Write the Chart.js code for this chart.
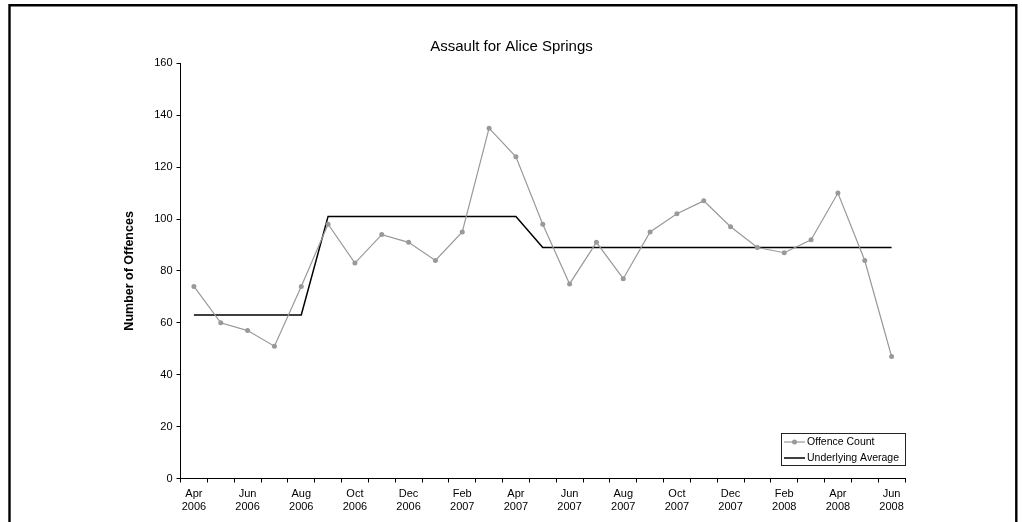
<!DOCTYPE html>
<html>
<head>
<meta charset="utf-8">
<script src="https://cdn.jsdelivr.net/npm/chart.js@4.4.1/dist/chart.umd.min.js"></script>
<style>
html,body{margin:0;padding:0;background:#fff;overflow:hidden;}
#wrap{position:relative;width:1022px;height:522px;}
</style>
</head>
<body>
<div id="wrap"><canvas id="c" width="1022" height="522"></canvas></div>
<script>
// ---- data ----
const monthLabels = ['Apr','May','Jun','Jul','Aug','Sep','Oct','Nov','Dec','Jan','Feb','Mar','Apr','May','Jun','Jul','Aug','Sep','Oct','Nov','Dec','Jan','Feb','Mar','Apr','May','Jun'];
const yearLabels = ['2006','2006','2006','2006','2006','2006','2006','2006','2006','2007','2007','2007','2007','2007','2007','2007','2007','2007','2007','2007','2007','2008','2008','2008','2008','2008','2008'];
const offenceCount = [74,60,57,51,74,98,83,94,91,84,95,135,124,98,75,91,77,95,102,107,97,89,87,92,110,84,47];
const underlyingAverage = [63,63,63,63,63,101,101,101,101,101,101,101,101,89,89,89,89,89,89,89,89,89,89,89,89,89,89];
const yTicks = [0,20,40,60,80,100,120,140,160];
const chartTitle = 'Assault for Alice Springs';
const yAxisTitle = 'Number of Offences';
const seriesNames = ['Offence Count','Underlying Average'];

const categories = monthLabels.map((m,i)=>m+' '+yearLabels[i]);
const FONT = "'Liberation Sans', Arial, sans-serif";

const framePlugin = {
  id:'frame',
  beforeDraw(chart){
    const ctx = chart.ctx;
    ctx.save();
    ctx.fillStyle='#fff';
    ctx.fillRect(0,0,chart.width,chart.height);
    ctx.strokeStyle='#000';
    ctx.lineWidth=2.4;
    ctx.beginPath();
    ctx.moveTo(9.5, 540);
    ctx.lineTo(9.5, 5.3);
    ctx.lineTo(1016.3, 5.3);
    ctx.lineTo(1016.3, 540);
    ctx.stroke();
    ctx.restore();
  }
};

const legendPlugin = {
  id:'boxLegend',
  afterDraw(chart){
    const ctx = chart.ctx;
    const a = chart.chartArea;
    const w = 124, h = 32;
    const x = a.right - w, y = a.bottom - 14 - h;
    ctx.save();
    ctx.fillStyle='#fff';
    ctx.fillRect(x,y,w,h);
    ctx.strokeStyle='#222';
    ctx.lineWidth=1;
    ctx.strokeRect(Math.round(x)+0.5, Math.round(y)+0.5, w, h);
    ctx.font = "10.5px " + FONT;
    ctx.textBaseline='middle';
    ctx.fillStyle='#000';
    chart.data.datasets.forEach((ds,i)=>{
      const cy = y + 9.5 + i*16;
      ctx.strokeStyle = ds.borderColor;
      ctx.lineWidth = ds.borderWidth;
      ctx.beginPath();
      ctx.moveTo(x+3, cy);
      ctx.lineTo(x+24, cy);
      ctx.stroke();
      if (ds.pointRadius > 0){
        ctx.fillStyle = ds.pointBackgroundColor;
        ctx.beginPath();
        ctx.arc(x+13.5, cy, ds.pointRadius, 0, Math.PI*2);
        ctx.fill();
      }
      ctx.fillStyle='#000';
      ctx.fillText(ds.label, x+26, cy+0.5);
    });
    ctx.restore();
  }
};

new Chart(document.getElementById('c'), {
  type:'line',
  data:{
    labels: categories,
    datasets:[
      {label: seriesNames[0], data: offenceCount, borderColor:'#999999', borderWidth:1.2,
       pointRadius:2.5, pointBackgroundColor:'#999999', pointBorderWidth:0, pointHoverRadius:2.5, tension:0},
      {label: seriesNames[1], data: underlyingAverage, borderColor:'#000000', borderWidth:1.5,
       pointRadius:0, tension:0}
    ]
  },
  options:{
    responsive:false,
    animation:false,
    events:[],
    layout:{padding:{left:118, right:117, top:0, bottom:0}},
    plugins:{
      legend:{display:false},
      tooltip:{enabled:false},
      title:{display:true, text: chartTitle, color:'#000',
        font:{family:FONT, size:15, weight:'normal', lineHeight:1.2},
        padding:{top:38, bottom:7.3}}
    },
    scales:{
      x:{
        type:'category',
        offset:true,
        grid:{display:true, offset:true, drawOnChartArea:false, drawTicks:true, tickLength:4, color:'#000', lineWidth:1},
        border:{display:true, color:'#000', width:1},
        ticks:{autoSkip:false, maxRotation:0, minRotation:0, padding:4, color:'#000',
          font:{family:FONT, size:11, lineHeight:1.27},
          callback:(v,i)=> i%2===0 ? [monthLabels[i], yearLabels[i]] : ''},
        afterFit:(s)=>{ s.height = 43.5; }
      },
      y:{
        min:0, max:160,
        afterBuildTicks:(s)=>{ s.ticks = yTicks.map(v=>({value:v})); },
        grid:{display:true, drawOnChartArea:false, drawTicks:true, tickLength:4, color:'#000'},
        border:{display:true, color:'#000', width:1},
        ticks:{padding:4, color:'#000', font:{family:FONT, size:11}},
        title:{display:true, text:yAxisTitle, color:'#000',
          font:{family:FONT, size:12.5, weight:'bold', lineHeight:1.2}, padding:{top:4.5, bottom:0}},
        afterFit:(s)=>{ s.width = 62.5; }
      }
    }
  },
  plugins:[framePlugin, legendPlugin]
});
</script>
</body>
</html>
